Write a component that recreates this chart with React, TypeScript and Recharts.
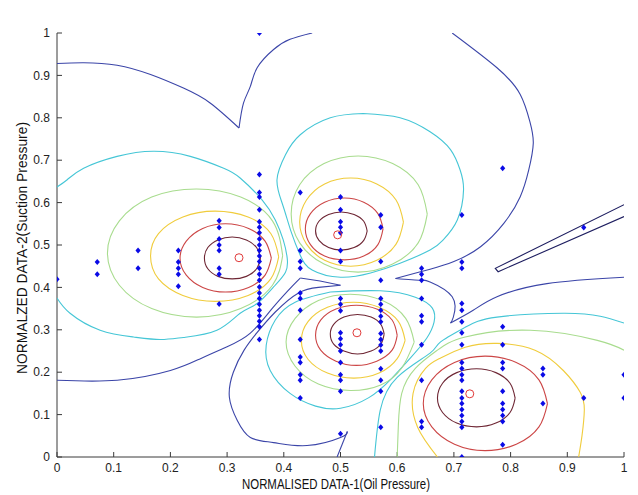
import React from "react";
import { ScatterChart, Scatter, XAxis, YAxis, Label } from "recharts";

// ---- observations (normalised oil pressure, suction pressure) ----
const obsX = [0, 0.071, 0.143, 0.214, 0.286, 0.357, 0.429, 0.5, 0.571, 0.643, 0.714, 0.786, 0.857, 0.929, 1];
const obsY: number[][] = [
  [0.419],
  [0.46, 0.431],
  [0.487, 0.445],
  [0.487, 0.46, 0.445, 0.431, 0.403],
  [0.557, 0.541, 0.514, 0.5, 0.487, 0.445, 0.431, 0.361],
  [1, 0.666, 0.624, 0.613, 0.583, 0.555, 0.542, 0.529, 0.514, 0.5, 0.487, 0.474, 0.461, 0.445, 0.431, 0.417, 0.401, 0.387, 0.374, 0.36, 0.346, 0.333, 0.32, 0.307, 0.277],
  [0.624, 0.487, 0.461, 0.445, 0.387, 0.374, 0.346, 0.277, 0.236, 0.223, 0.194, 0.181, 0.139],
  [0.613, 0.583, 0.555, 0.542, 0.529, 0.487, 0.461, 0.374, 0.36, 0.345, 0.293, 0.279, 0.265, 0.25, 0.223, 0.194, 0.181, 0.155, 0.055],
  [0.571, 0.542, 0.461, 0.417, 0.374, 0.36, 0.346, 0.332, 0.319, 0.291, 0.277, 0.264, 0.25, 0.208, 0.181, 0.155, 0.07],
  [0.445, 0.431, 0.417, 0.374, 0.333, 0.319, 0.265, 0.181, 0.084, 0.07],
  [0.571, 0.46, 0.445, 0.362, 0.346, 0.319, 0.293, 0.265, 0.223, 0.209, 0.194, 0.181, 0.155, 0.139, 0.126, 0.112, 0.098, 0.084, 0.07, 0],
  [0.681, 0.307, 0.265, 0.223, 0.209, 0.155, 0.126, 0.112, 0.098, 0.084, 0.029],
  [0.209, 0.194, 0.126],
  [0.541, 0.139],
  [0.194, 0.139],
];

// cluster centres
const centerX = [0.321, 0.495, 0.529, 0.728];
const centerY = [0.47, 0.524, 0.293, 0.149];

const ticks = [0, 0.1, 0.2, 0.3, 0.4, 0.5, 0.6, 0.7, 0.8, 0.9, 1];

// ---- contour lines ([x, y]) ----
const c1Dark = [[0.359, 0.469], [0.352, 0.494], [0.334, 0.512], [0.309, 0.519], [0.284, 0.512], [0.266, 0.494], [0.26, 0.469], [0.266, 0.444], [0.284, 0.426], [0.309, 0.42], [0.334, 0.426], [0.352, 0.444], [0.359, 0.469]];
const c1Red = [[0.378, 0.469], [0.367, 0.509], [0.338, 0.539], [0.297, 0.55], [0.257, 0.539], [0.228, 0.509], [0.217, 0.469], [0.228, 0.429], [0.257, 0.4], [0.297, 0.389], [0.338, 0.4], [0.367, 0.429], [0.378, 0.469]];
const c1Yellow = [[0.391, 0.472], [0.377, 0.527], [0.337, 0.566], [0.279, 0.58], [0.222, 0.566], [0.179, 0.527], [0.165, 0.474], [0.179, 0.42], [0.222, 0.381], [0.279, 0.367], [0.337, 0.381], [0.377, 0.42], [0.391, 0.472]];
const c1Green = [[0.398, 0.475], [0.38, 0.557], [0.324, 0.613], [0.246, 0.632], [0.167, 0.613], [0.11, 0.557], [0.089, 0.481], [0.11, 0.405], [0.167, 0.35], [0.246, 0.33], [0.324, 0.35], [0.38, 0.405], [0.398, 0.475]];
const c1Cyan = [[0, 0.637], [0.018, 0.654], [0.047, 0.681], [0.106, 0.709], [0.17, 0.721], [0.235, 0.709], [0.294, 0.681], [0.323, 0.658], [0.362, 0.606], [0.385, 0.559], [0.399, 0.512], [0.406, 0.469], [0.403, 0.436], [0.382, 0.401], [0.353, 0.362], [0.323, 0.339], [0.282, 0.299], [0.223, 0.282], [0.182, 0.277], [0.135, 0.283], [0.076, 0.299], [0.023, 0.339], [0, 0.375]];

const c2Dark = [[0.547, 0.533], [0.541, 0.556], [0.524, 0.572], [0.501, 0.578], [0.479, 0.572], [0.462, 0.556], [0.456, 0.533], [0.462, 0.511], [0.479, 0.494], [0.501, 0.488], [0.524, 0.494], [0.541, 0.511], [0.547, 0.533]];
const c2Red = [[0.575, 0.538], [0.566, 0.574], [0.541, 0.601], [0.507, 0.611], [0.472, 0.601], [0.447, 0.574], [0.438, 0.538], [0.447, 0.501], [0.472, 0.474], [0.507, 0.465], [0.541, 0.474], [0.566, 0.501], [0.575, 0.538]];
const c2Yellow = [[0.611, 0.554], [0.598, 0.606], [0.564, 0.644], [0.518, 0.658], [0.472, 0.644], [0.44, 0.606], [0.428, 0.554], [0.44, 0.502], [0.472, 0.464], [0.518, 0.45], [0.564, 0.464], [0.598, 0.502], [0.611, 0.554]];
const c2Green = [[0.653, 0.573], [0.637, 0.642], [0.592, 0.692], [0.531, 0.71], [0.471, 0.692], [0.428, 0.642], [0.413, 0.573], [0.428, 0.505], [0.471, 0.455], [0.531, 0.436], [0.592, 0.455], [0.637, 0.505], [0.653, 0.573]];
const c2Cyan = [[0.54, 0.81], [0.605, 0.8], [0.658, 0.767], [0.694, 0.725], [0.711, 0.677], [0.717, 0.63], [0.706, 0.559], [0.681, 0.512], [0.658, 0.488], [0.605, 0.457], [0.553, 0.434], [0.5, 0.424], [0.45, 0.441], [0.429, 0.476], [0.413, 0.531], [0.398, 0.595], [0.388, 0.654], [0.403, 0.713], [0.429, 0.76], [0.482, 0.8], [0.54, 0.81]];

const c3Dark = [[0.577, 0.29], [0.571, 0.313], [0.554, 0.33], [0.53, 0.336], [0.506, 0.33], [0.488, 0.313], [0.482, 0.29], [0.488, 0.266], [0.506, 0.25], [0.53, 0.243], [0.554, 0.25], [0.571, 0.266], [0.577, 0.29]];
const c3Red = [[0.6, 0.287], [0.591, 0.323], [0.564, 0.349], [0.528, 0.358], [0.492, 0.349], [0.465, 0.323], [0.456, 0.287], [0.465, 0.252], [0.492, 0.226], [0.528, 0.216], [0.564, 0.226], [0.591, 0.252], [0.6, 0.287]];
const c3Yellow = [[0.614, 0.275], [0.602, 0.32], [0.568, 0.353], [0.523, 0.365], [0.477, 0.353], [0.443, 0.32], [0.431, 0.275], [0.443, 0.23], [0.477, 0.198], [0.523, 0.186], [0.568, 0.198], [0.6, 0.232], [0.614, 0.275]];
const c3Green = [[0.63, 0.271], [0.615, 0.327], [0.574, 0.369], [0.517, 0.384], [0.461, 0.369], [0.42, 0.327], [0.404, 0.271], [0.42, 0.214], [0.461, 0.172], [0.517, 0.157], [0.571, 0.17], [0.608, 0.21], [0.63, 0.271]];
const c3Cyan = [[0.482, 0.389], [0.57, 0.392], [0.632, 0.377], [0.662, 0.351], [0.665, 0.318], [0.652, 0.28], [0.625, 0.236], [0.59, 0.185], [0.55, 0.14], [0.5, 0.115], [0.456, 0.12], [0.411, 0.15], [0.376, 0.204], [0.369, 0.264], [0.385, 0.323], [0.42, 0.365], [0.482, 0.389]];

const c4Dark = [[0.808, 0.139], [0.799, 0.174], [0.774, 0.199], [0.74, 0.208], [0.705, 0.199], [0.68, 0.174], [0.671, 0.139], [0.68, 0.105], [0.705, 0.08], [0.74, 0.071], [0.774, 0.08], [0.799, 0.105], [0.808, 0.139]];
const c4Red = [[0.865, 0.126], [0.85, 0.182], [0.81, 0.223], [0.755, 0.238], [0.701, 0.223], [0.661, 0.182], [0.646, 0.126], [0.661, 0.071], [0.701, 0.03], [0.755, 0.015], [0.81, 0.03], [0.85, 0.071], [0.865, 0.126]];
const c4Yellow = [[0.671, 0], [0.636, 0.07], [0.628, 0.15], [0.65, 0.209], [0.676, 0.233], [0.72, 0.259], [0.776, 0.268], [0.843, 0.252], [0.893, 0.204], [0.923, 0.152], [0.93, 0.11], [0.926, 0.051], [0.92, 0]];
const c4Green = [[0.6, 0], [0.602, 0.074], [0.608, 0.15], [0.632, 0.209], [0.671, 0.252], [0.72, 0.283], [0.835, 0.299], [0.953, 0.275], [1, 0.252]];
const c4Cyan = [[0.56, 0], [0.57, 0.11], [0.6, 0.188], [0.658, 0.245], [0.676, 0.271], [0.72, 0.306], [0.776, 0.33], [0.893, 0.339], [0.958, 0.332], [1, 0.316]];

const blueTopLeftA = [[0, 0.928], [0.047, 0.93], [0.106, 0.924], [0.165, 0.902], [0.223, 0.87], [0.27, 0.835], [0.321, 0.776]];
const blueTopLeftB = [[0.321, 0.776], [0.329, 0.835], [0.341, 0.874], [0.353, 0.918], [0.382, 0.961], [0.411, 0.985], [0.45, 1]];
const blueTopRightA = [[0.697, 1], [0.776, 0.918], [0.817, 0.855], [0.834, 0.791], [0.84, 0.74], [0.832, 0.677], [0.817, 0.614], [0.788, 0.551], [0.747, 0.496], [0.7, 0.461], [0.658, 0.443], [0.641, 0.437], [0.597, 0.421]];
const blueTopRightB = [[0.597, 0.421], [0.641, 0.417], [0.658, 0.413], [0.697, 0.378], [0.699, 0.33], [0.694, 0.316]];
const blueTopRightC = [[0.694, 0.316], [0.734, 0.346], [0.776, 0.378], [0.864, 0.409], [1, 0.424]];
const blueSliver = [[1, 0.595], [0.773, 0.445], [0.778, 0.437], [1, 0.567]];
const blueLeftA = [[0, 0.181], [0.106, 0.181], [0.2, 0.204], [0.253, 0.232], [0.3, 0.26], [0.341, 0.292], [0.38, 0.351], [0.415, 0.403], [0.429, 0.422]];
const blueLeftB = [[0.429, 0.422], [0.464, 0.415], [0.5, 0.405]];
const blueLeftC = [[0.5, 0.405], [0.461, 0.4], [0.426, 0.387], [0.385, 0.342], [0.352, 0.292], [0.33, 0.252], [0.311, 0.2], [0.304, 0.141], [0.318, 0.086], [0.341, 0.046], [0.382, 0.034], [0.441, 0.027], [0.5, 0.046], [0.512, 0.06]];
const blueLeftD = [[0.512, 0.06], [0.494, 0]];

const BLUE = "#3b45a8";
const CYAN = "#45c6d6";
const GREEN = "#a8dc8e";
const YELLOW = "#f0cc3c";
const RED = "#cc4646";
const DARK = "#6e2634";

const contours: { pts: number[][]; color: string; curve?: string }[] = [
  { pts: blueTopLeftA, color: BLUE },
  { pts: blueTopLeftB, color: BLUE },
  { pts: blueTopRightA, color: BLUE },
  { pts: blueTopRightB, color: BLUE },
  { pts: blueTopRightC, color: BLUE },
  { pts: blueSliver, color: "#1e1e60", curve: "linear" },
  { pts: blueLeftA, color: BLUE },
  { pts: blueLeftB, color: BLUE, curve: "linear" },
  { pts: blueLeftC, color: BLUE },
  { pts: blueLeftD, color: BLUE, curve: "linear" },
  { pts: c1Cyan, color: CYAN },
  { pts: c2Cyan, color: CYAN },
  { pts: c3Cyan, color: CYAN },
  { pts: c4Cyan, color: CYAN },
  { pts: c1Green, color: GREEN },
  { pts: c2Green, color: GREEN },
  { pts: c3Green, color: GREEN },
  { pts: c4Green, color: GREEN },
  { pts: c1Yellow, color: YELLOW },
  { pts: c2Yellow, color: YELLOW },
  { pts: c3Yellow, color: YELLOW },
  { pts: c4Yellow, color: YELLOW },
  { pts: c1Red, color: RED },
  { pts: c2Red, color: RED },
  { pts: c3Red, color: RED },
  { pts: c4Red, color: RED },
  { pts: c1Dark, color: DARK },
  { pts: c2Dark, color: DARK },
  { pts: c3Dark, color: DARK },
  { pts: c4Dark, color: DARK },
];

const observations = obsX.flatMap((x, i) => obsY[i].map((y) => ({ x, y })));
const centers = centerX.map((x, i) => ({ x, y: centerY[i] }));

const FONT = "'Liberation Sans', Arial, sans-serif";
const AXIS = "#3a3a3a";

const Diamond = (props: any) => {
  const { cx, cy } = props;
  return (
    <polygon
      points={`${cx},${cy - 3} ${cx + 2.6},${cy} ${cx},${cy + 3} ${cx - 2.6},${cy}`}
      fill="#0a0ae6"
    />
  );
};

const Ring = (props: any) => {
  const { cx, cy } = props;
  return <circle cx={cx} cy={cy} r={4} fill="none" stroke="#e03a3a" strokeWidth={1} />;
};

const NoDot = () => <g />;

const fmt = (v: number) => String(v);

export default function App() {
  return (
    <div style={{ position: "absolute", left: 0, top: 0, background: "#fff" }}>
      <ScatterChart width={638} height={495} margin={{ top: 33, right: 14, bottom: 0, left: 0 }}>
        <XAxis
          type="number"
          dataKey="x"
          domain={[0, 1]}
          ticks={ticks}
          tickFormatter={fmt}
          height={38}
          tickSize={-5}
          tickMargin={11}
          stroke={AXIS}
          tick={{ fontSize: 12, fill: "#222", fontFamily: FONT }}
          allowDataOverflow
        >
          <Label
            content={() => (
              <text x={336} y={489} fontSize={14} fontFamily={FONT} fill="#111" textAnchor="middle" textLength={188} lengthAdjust="spacingAndGlyphs">
                NORMALISED DATA-1(Oil Pressure)
              </text>
            )}
          />
        </XAxis>
        <YAxis
          type="number"
          dataKey="y"
          domain={[0, 1]}
          ticks={ticks}
          tickFormatter={fmt}
          width={57}
          tickSize={-5}
          tickMargin={12}
          stroke={AXIS}
          tick={{ fontSize: 12, fill: "#222", fontFamily: FONT }}
          allowDataOverflow
        >
          <Label
            content={() => (
              <text x={27} y={248} transform="rotate(-90, 27, 248)" fontSize={14} fontFamily={FONT} fill="#111" textAnchor="middle" textLength={252} lengthAdjust="spacingAndGlyphs">
                NORMALZED DATA-2(Suction Pressure)
              </text>
            )}
          />
        </YAxis>
        <XAxis
          xAxisId="top"
          orientation="top"
          type="number"
          domain={[0, 1]}
          ticks={ticks}
          height={0}
          tickSize={-5}
          tick={false}
          stroke={AXIS}
        >
          <Label
            content={() => (
              <text x={338} y={24} fontSize={14} fontFamily={FONT} fill="#111" textAnchor="middle" textLength={220} lengthAdjust="spacingAndGlyphs">
                FUZZY CLUSTERING WITH 4 CLUSTERS
              </text>
            )}
          />
        </XAxis>
        <YAxis
          yAxisId="right"
          orientation="right"
          type="number"
          domain={[0, 1]}
          ticks={ticks}
          width={0}
          tickSize={-5}
          tick={false}
          stroke={AXIS}
        />
        {contours.map((c, i) => (
          <Scatter
            key={i}
            data={c.pts.map(([x, y]) => ({ x, y }))}
            line={{ stroke: c.color, strokeWidth: 1.1 }}
            lineJointType={(c.curve ?? "natural") as any}
            shape={NoDot}
            isAnimationActive={false}
          />
        ))}
        <Scatter data={observations} shape={Diamond} isAnimationActive={false} />
        <Scatter data={centers} shape={Ring} isAnimationActive={false} />
      </ScatterChart>
    </div>
  );
}
